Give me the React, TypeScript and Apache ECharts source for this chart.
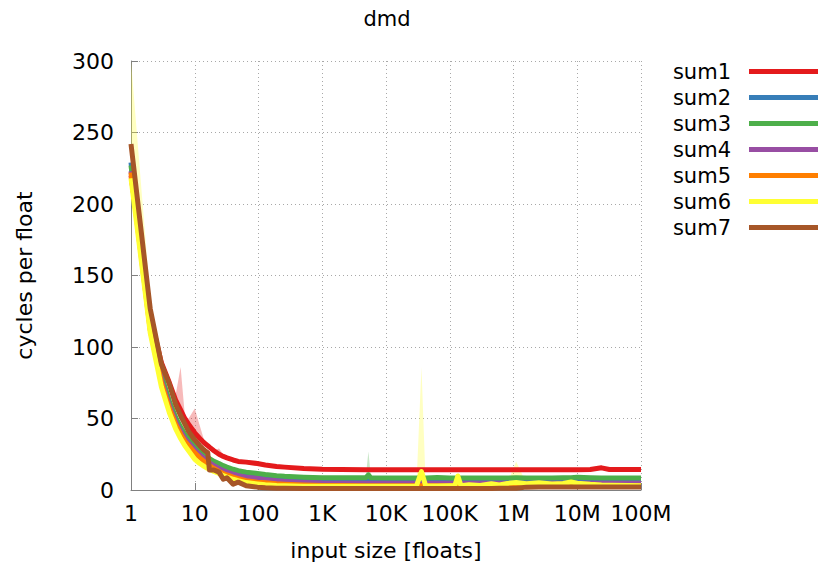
import React, { useEffect, useRef } from "react";
import * as echarts from "echarts";

const FONT = "'DejaVu Sans', 'Liberation Sans', sans-serif";

const titleText = "dmd";
const xAxisName = "input size [floats]";
const yAxisName = "cycles per float";
const xTickLabels = ["1", "10", "100", "1K", "10K", "100K", "1M", "10M", "100M"];
const yMin = 0;
const yMax = 300;
const yStep = 50;

const seriesNames = ["sum1", "sum2", "sum3", "sum4", "sum5", "sum6", "sum7"];
const seriesColors = ["#e41a1c", "#377eb8", "#4daf4a", "#984ea3", "#ff7f00", "#ffff33", "#a65628"];

const xs = [
  1, 2, 3, 4, 5, 6, 7, 8, 10, 12, 14, 16, 17, 20, 24, 28, 32, 40, 48, 64, 96, 128, 192, 256, 512,
  1000, 2000, 4800, 5300, 5800, 10000, 20000, 30000, 36000, 42000, 64000, 100000, 120000, 134000,
  150000, 200000, 300000, 450000, 600000, 800000, 1100000, 1600000, 2500000, 4000000, 6000000,
  8000000, 10000000, 16000000, 24000000, 32000000, 64000000, 100000000,
];

const sum1 = [
  220, 122, 89, 75, 63, 56, 50, 46, 40, 36, 33, 31, 30, 27.5, 25, 23.5, 22.5, 21, 20, 19.5, 18.5, 17.5, 16.5, 16, 15,
  14.5, 14.3, 14.2, 14.2, 14.2, 14.2, 14.2, 14.1, 14.1, 14.1, 14.1, 14.2, 14.1, 14.1,
  14.1, 14.1, 14.1, 14.1, 14.1, 14.1, 14.2, 14.1, 14.1, 14.1, 14.2,
  14.2, 14.2, 14.3, 15.5, 14.3, 14.3, 14.3,
];
const sum2 = [
  229, 116, 79, 61, 50, 43, 38, 34.5, 29.5, 26, 23, 21, 20, 18, 16, 14.5, 13.5, 12, 11, 10, 9, 8.3, 7.6, 7.2, 6.7,
  6.4, 6.3, 6.3, 6.4, 6.3, 6.3, 6.3, 6.3, 6.3, 6.3, 6.3, 6.3, 6.3, 6.3,
  6.3, 6.3, 6.3, 6.3, 6.3, 6.3, 6.4, 6.3, 6.3, 6.3, 6.3,
  6.4, 6.4, 6.3, 6.3, 6.3, 6.3, 6.3,
];
const sum3 = [
  227, 117, 80, 62, 51, 44, 39, 36, 31, 27.5, 25, 23, 22, 20, 18.5, 17, 16, 14.5, 13.5, 12.5, 11.5, 10.8, 10, 9.6, 9,
  8.6, 8.5, 8.5, 10.5, 8.5, 8.4, 8.4, 8.4, 8.4, 8.4, 8.8, 8.4, 8.4, 8.4,
  8.4, 8.4, 8.4, 8.4, 8.4, 8.4, 8.5, 8.4, 8.4, 8.4, 8.5,
  8.6, 9, 8.6, 8.4, 8.4, 8.4, 8.4,
];
const sum4 = [
  223, 114, 77, 59, 48, 41, 36, 33, 28, 24.5, 22, 20, 19, 17, 15, 13.5, 12.5, 11, 10, 9, 8, 7.2, 6.4, 6, 5.3,
  4.9, 4.8, 4.7, 4.7, 4.7, 4.7, 4.7, 4.7, 4.7, 4.7, 4.7, 4.7, 4.7, 4.7,
  4.7, 4.7, 4.7, 4.7, 4.7, 4.7, 4.8, 4.7, 4.7, 4.7, 4.7,
  4.8, 4.8, 4.7, 4.7, 4.7, 4.7, 4.7,
];
const sum5 = [
  222, 112, 75, 57, 46, 39, 34, 31, 26, 22.5, 20, 18, 17, 15, 13, 11.5, 10.5, 9, 8, 6.5, 5.5, 5, 4.3, 4, 3.5,
  3.2, 3.1, 3, 3, 3, 3, 3, 3, 3, 3, 3, 3, 3, 3,
  3, 3.1, 3, 3.2, 3, 3.1, 3.2, 3.1, 3.2, 3, 3.1,
  3.2, 3.1, 3, 3, 3, 3, 3,
];
const sum6 = [
  218, 110, 72, 54, 43, 36, 31, 27.5, 21.5, 18.5, 16.5, 15, 14.5, 13, 11.5, 10, 9, 7.5, 6.5, 5.2, 4.2, 3.6, 3.1, 2.9, 2.7,
  2.6, 2.6, 2.6, 2.6, 2.6, 2.6, 2.7, 2.8, 12.8, 2.8, 2.8, 2.9, 2.9, 9.8,
  3, 3.6, 3.2, 4.4, 3.6, 4.6, 5.2, 4.4, 5, 4.2, 4.6,
  5.6, 4.8, 4, 3.5, 3.3, 3.1, 3,
];
const sum7 = [
  242, 127, 88, 74, 60, 52, 46, 41, 35, 31, 28, 26, 14, 14, 12.5, 7.5, 8.5, 4, 5.5, 3, 2, 1.6, 1.3, 1.2, 1.1,
  1.1, 1.1, 1.1, 1.1, 1.1, 1.1, 1.1, 1.1, 1.1, 1.1, 1.1, 1.1, 1.1, 1.1,
  1.1, 1.1, 1.1, 1.1, 1.2, 1.2, 1.2, 2, 2.1, 2.1, 2.1,
  2.1, 2.1, 2.1, 2.1, 2.1, 2.1, 2.1,
];

// maxima of the runs where they stand clearly above the plotted value: [input size, cycles]
const sum1Peaks = [[4, 78], [5, 66], [6, 86], [7, 52], [8, 50], [10, 57], [12, 45], [14, 35], [24, 29], [28, 25], [24000000, 17]];
const sum3Peaks = [[5300, 27]];
const sum6Peaks = [[1, 300], [2, 135], [3, 80], [36000, 86], [1100000, 20]];

const seriesValues = [sum1, sum2, sum3, sum4, sum5, sum6, sum7];
const seriesPeaks: (number[][] | null)[] = [sum1Peaks, null, sum3Peaks, null, null, sum6Peaks, null];

function bandSeries(values: number[], peaks: number[][], color: string) {
  const upper = xs.map((x, i) => {
    const p = peaks.find((q) => q[0] === x);
    return p ? p[1] : values[i];
  });
  return {
    type: "custom",
    coordinateSystem: "cartesian2d",
    silent: true,
    z: 1,
    data: [[xs[0], values[0]]],
    encode: { x: 0, y: 1 },
    renderItem: (_params: any, api: any) => {
      const pts: number[][] = [];
      for (let i = 0; i < xs.length; i++) pts.push(api.coord([xs[i], upper[i]]));
      for (let i = xs.length - 1; i >= 0; i--) pts.push(api.coord([xs[i], values[i]]));
      return { type: "polygon", shape: { points: pts }, style: { fill: color, opacity: 0.3 } };
    },
  };
}

export default function App() {
  const ref = useRef<HTMLDivElement>(null);
  useEffect(() => {
    document.body.style.margin = "0";
    const chart = echarts.init(ref.current as HTMLDivElement, null, { renderer: "svg" });
    const bands: any[] = [];
    seriesPeaks.forEach((p, i) => {
      if (p) bands.push(bandSeries(seriesValues[i], p, seriesColors[i]));
    });
    const lines = seriesNames.map((name, i) => ({
      name,
      type: "line",
      data: xs.map((x, j) => [x, seriesValues[i][j]]),
      showSymbol: false,
      symbol: "none",
      z: 2,
      color: seriesColors[i],
      lineStyle: { width: 5, color: seriesColors[i], join: "round" },
    }));
    const gridLine = { show: true, lineStyle: { color: "#a8a8a8", width: 1, type: [1, 3] } };
    chart.setOption({
      animation: false,
      backgroundColor: "#ffffff",
      textStyle: { fontFamily: FONT },
      graphic: [
        {
          type: "text",
          x: 387,
          y: 19,
          style: { text: titleText, textAlign: "center", textVerticalAlign: "middle", fontSize: 21, fontFamily: FONT, fill: "#000" },
        },
      ],
      grid: { left: 131, right: 177, top: 61, bottom: 79, containLabel: false },
      legend: {
        data: seriesNames,
        orient: "vertical",
        right: 0,
        top: 61,
        align: "right",
        icon: "rect",
        itemWidth: 69,
        itemHeight: 5,
        itemGap: 5,
        padding: 0,
        selectedMode: false,
        textStyle: { fontSize: 21, fontFamily: FONT, color: "#000", lineHeight: 21, padding: [0, 13, 0, 0] },
      },
      xAxis: {
        type: "log",
        logBase: 10,
        min: 1,
        max: 1e8,
        name: xAxisName,
        nameLocation: "middle",
        nameGap: 49,
        nameTextStyle: { fontSize: 22, fontFamily: FONT, color: "#000" },
        axisLine: { show: true, lineStyle: { color: "#808080", width: 1 } },
        axisTick: { show: true, inside: true, length: 7, lineStyle: { color: "#808080" } },
        splitLine: gridLine,
        axisLabel: {
          fontSize: 22,
          fontFamily: FONT,
          color: "#000",
          margin: 12,
          formatter: (v: number) => xTickLabels[Math.round(Math.log10(v))] ?? "",
        },
      },
      yAxis: {
        type: "value",
        min: yMin,
        max: yMax,
        interval: yStep,
        name: yAxisName,
        nameLocation: "middle",
        nameGap: 96,
        nameTextStyle: { fontSize: 22, fontFamily: FONT, color: "#000" },
        axisLine: { show: true, lineStyle: { color: "#808080", width: 1 } },
        axisTick: { show: true, inside: true, length: 7, lineStyle: { color: "#808080" } },
        splitLine: gridLine,
        axisLabel: { fontSize: 22, fontFamily: FONT, color: "#000", margin: 17 },
      },
      series: [...bands, ...lines],
    });
    return () => chart.dispose();
  }, []);
  return <div ref={ref} style={{ width: 818, height: 569 }} />;
}
